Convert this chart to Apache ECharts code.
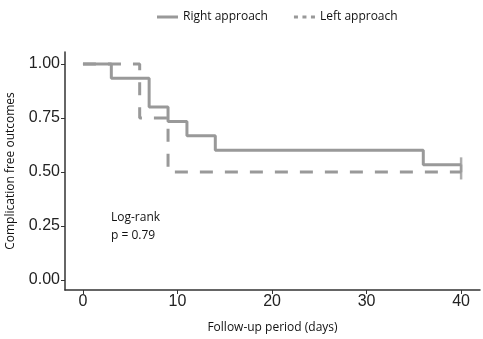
<!DOCTYPE html>
<html><head><meta charset="utf-8">
<script src="https://cdn.jsdelivr.net/npm/echarts@6/dist/echarts.min.js"></script>
<style>html,body{margin:0;padding:0;background:#fff}#c{width:483px;height:339px}</style>
</head><body><div id="c"></div>
<script>
const rightTimes = [0, 3, 7, 9, 11, 14, 36, 40];
const rightSurv  = [1, 0.933, 0.8, 0.733, 0.667, 0.6, 0.533, 0.533];
const leftTimes  = [0, 6, 9, 40];
const leftSurv   = [1, 0.75, 0.5, 0.5];
const censorRight = [[40, 0.533]];
const censorLeft  = [[40, 0.5]];
const xTicks = [0, 10, 20, 30, 40];
const yTicks = [0, 0.25, 0.5, 0.75, 1];

const gray = '#999999';
const chart = echarts.init(document.getElementById('c'));
chart.setOption({
  animation: false,
  legend: {
    top: 6, left: 152, itemWidth: 21, itemHeight: 3, itemGap: 26,
    textStyle: {fontFamily: 'Open Sans', fontSize: 12, color: '#111'},
    data: [
      {name: 'Right approach', icon: 'path://M0,0 L21,0 L21,3 L0,3 Z'},
      {name: 'Left approach', icon: 'path://M0,0 L4,0 L4,3 L0,3 Z M8.5,0 L12.5,0 L12.5,3 L8.5,3 Z M17,0 L21,0 L21,3 L17,3 Z'}
    ]
  },
  grid: {left: 65, right: 3, top: 52, bottom: 49, outerBoundsMode: 'none', containLabel: false},
  xAxis: {
    type: 'value', min: -1.9, max: 42,
    name: 'Follow-up period (days)', nameLocation: 'middle', nameGap: 32,
    nameTextStyle: {fontFamily: 'Open Sans', fontSize: 12, color: '#111'},
    axisLine: {onZero: false, lineStyle: {color: '#333', width: 1.5}},
    axisTick: {show: true, length: 4, customValues: xTicks, lineStyle: {color: '#333'}},
    axisLabel: {customValues: xTicks, fontFamily: 'Liberation Sans', fontSize: 16, color: '#222', margin: 4},
    splitLine: {show: false}
  },
  yAxis: {
    type: 'value', min: -0.046, max: 1.055,
    name: 'Complication free outcomes', nameLocation: 'middle', nameGap: 48,
    nameTextStyle: {fontFamily: 'Open Sans', fontSize: 12, color: '#111'},
    axisLine: {show: true, onZero: false, lineStyle: {color: '#333', width: 1.5}},
    axisTick: {show: true, length: 4, customValues: yTicks, lineStyle: {color: '#333'}},
    axisLabel: {customValues: yTicks, formatter: v => v.toFixed(2), fontFamily: 'Liberation Sans', fontSize: 16, color: '#222', margin: 5},
    splitLine: {show: false}
  },
  series: [
    {name: 'Right approach', type: 'line', step: 'end', symbol: 'none',
     data: rightTimes.map((t, i) => [t, rightSurv[i]]),
     lineStyle: {color: gray, width: 3}, itemStyle: {color: gray}},
    {name: 'Left approach', type: 'line', step: 'end', symbol: 'none',
     data: leftTimes.map((t, i) => [t, leftSurv[i]]),
     lineStyle: {color: gray, width: 3, type: [13, 12]}, itemStyle: {color: gray}},
    {type: 'scatter', symbol: 'rect', symbolSize: [2.5, 15], data: censorRight, itemStyle: {color: gray}, silent: true},
    {type: 'scatter', symbol: 'rect', symbolSize: [2.5, 15], data: censorLeft, itemStyle: {color: gray}, silent: true}
  ],
  graphic: [
    {type: 'text', left: 111, top: 209, style: {text: 'Log-rank\np = 0.79', fontFamily: 'Open Sans', fontSize: 12, lineHeight: 18, fill: '#111', align: 'left'}}
  ]
});
</script></body></html>
